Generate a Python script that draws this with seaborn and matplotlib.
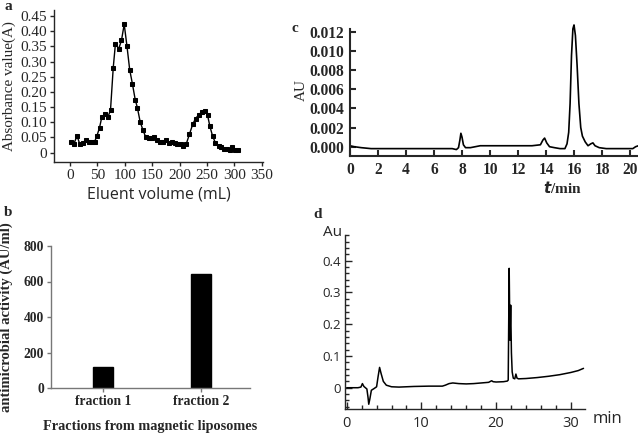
import matplotlib
matplotlib.use("Agg")
import matplotlib.pyplot as plt
import seaborn as sns
import pandas as pd
from matplotlib.ticker import MultipleLocator, FixedLocator

# ---------------- data ----------------
# panel a: gel filtration profile
vol_a = [2, 7, 13, 18, 24, 29, 35, 40, 45, 49, 54, 58, 64, 69, 74, 79, 83, 89, 94, 99,
         104, 109, 114, 119, 123, 128, 133, 138, 144, 149, 154, 159, 165, 170, 175, 181,
         186, 191, 196, 202, 207, 212, 218, 224, 229, 235, 241, 246, 251, 255, 260, 265,
         271, 276, 281, 286, 291, 296, 301, 306]
abs_a = [0.034, 0.028, 0.055, 0.028, 0.033, 0.042, 0.034, 0.036, 0.036, 0.054, 0.082,
         0.116, 0.127, 0.116, 0.140, 0.280, 0.359, 0.342, 0.370, 0.423, 0.351, 0.273,
         0.226, 0.175, 0.148, 0.102, 0.075, 0.052, 0.048, 0.049, 0.052, 0.042, 0.035,
         0.036, 0.042, 0.033, 0.036, 0.031, 0.028, 0.028, 0.022, 0.028, 0.061, 0.094,
         0.112, 0.125, 0.135, 0.137, 0.123, 0.088, 0.055, 0.033, 0.022, 0.020, 0.013,
         0.011, 0.009, 0.020, 0.007, 0.007]

# panel b: antimicrobial activity
fractions_b = ["fraction 1", "fraction 2"]
activity_b = [120, 640]

# panel c: HPLC chromatogram
t_c = [0, 0.3, 0.8, 1.5, 3, 5, 6.5, 7.3, 7.6, 7.75, 7.85, 7.92, 8.0, 8.1, 8.25, 8.6,
       9.3, 11, 13, 13.6, 13.78, 13.9, 14.05, 14.25, 14.6, 15.0, 15.35, 15.5, 15.62,
       15.72, 15.82, 15.92, 16.0, 16.1, 16.22, 16.35, 16.48, 16.6, 16.8, 17.0, 17.2,
       17.35, 17.5, 17.8, 18.3, 19.5, 20.2, 20.4, 20.6]
au_c = [0.0001, 0.0000, -0.0001, -0.0002, -0.0002, -0.0002, -0.0002, -0.0002, -0.0003,
        -0.0001, 0.0007, 0.0014, 0.0010, 0.0002, -0.0001, -0.0001, 0.0001, 0.0001,
        0.0001, 0.0002, 0.0007, 0.0009, 0.0004, 0.0000, -0.0001, -0.0002, -0.0002,
        0.0003, 0.0015, 0.0045, 0.0095, 0.0123, 0.0127, 0.0116, 0.0085, 0.0045,
        0.0020, 0.0011, 0.0005, 0.0001, 0.0003, 0.0004, 0.0001, -0.0001, -0.0002,
        -0.0002, -0.0002, 0.0000, 0.0001]

# panel d: HPLC chromatogram
t_d = [0, 1.5, 1.9, 2.1, 2.3, 2.5, 2.7, 2.85, 2.95, 3.1, 3.3, 3.7, 4.0, 4.2, 4.4, 4.6,
       4.9, 5.3, 6.0, 7.0, 9.0, 11.0, 12.8, 13.2, 13.7, 14.2, 15.0, 16.0, 17.0, 18.0,
       19.0, 19.4, 19.6, 20.0, 21.0, 21.5, 21.62, 21.75, 21.85, 21.95, 22.05, 22.15,
       22.3, 22.5, 22.65, 22.8, 23.0, 24.0, 25.5, 27.0, 28.5, 30.0, 31.0, 31.7]
au_d = [0.0, 0.0, 0.002, 0.013, 0.004, 0.0, -0.004, -0.030, -0.052, -0.035, -0.008,
        -0.002, 0.003, 0.035, 0.064, 0.045, 0.020, 0.008, 0.003, 0.002, 0.004, 0.005,
        0.005, 0.008, 0.013, 0.015, 0.013, 0.012, 0.013, 0.015, 0.017, 0.022, 0.019,
        0.018, 0.019, 0.021, 0.024, 0.376, 0.150, 0.260, 0.110, 0.050, 0.030, 0.028,
        0.043, 0.030, 0.028, 0.029, 0.032, 0.036, 0.041, 0.048, 0.054, 0.061]

# ---------------- figure ----------------
sns.set_theme(style="ticks")
plt.rcParams["font.family"] = ["Liberation Serif", "DejaVu Serif"]
plt.rcParams["axes.linewidth"] = 1.0

W, H = 638, 434
fig = plt.figure(figsize=(W / 100, H / 100), dpi=100)
fig.patch.set_facecolor("white")


def add_ax(l, r, t, b):
    return fig.add_axes([l / W, 1 - b / H, (r - l) / W, (b - t) / H])


SERIF = "Liberation Serif"
SANS = "Open Sans"

# ---- panel a ----
axa = add_ax(54, 263, 10, 162)
dfa = pd.DataFrame({"vol": vol_a, "abs": abs_a})
sns.lineplot(data=dfa, x="vol", y="abs", ax=axa, color="black", lw=1.0,
             marker="s", markersize=3.3, markeredgecolor="black", estimator=None)
axa.set_xlim(-29, 352)
axa.set_ylim(-0.031, 0.47)
axa.set_xticks(range(0, 351, 50))
yt = [i * 0.05 for i in range(10)]
axa.set_yticks(yt)
axa.set_yticklabels(["0"] + [f"{v:.2f}" for v in yt[1:]])
for s in ["top", "right"]:
    axa.spines[s].set_visible(False)
axa.tick_params(direction="out", length=3, width=1, labelsize=11, pad=2)
for lab in axa.get_xticklabels() + axa.get_yticklabels():
    lab.set_fontfamily(SERIF)
axa.set_xlabel("Eluent volume (mL)", fontfamily=SANS, fontsize=11.5, labelpad=3)
axa.set_ylabel("Absorbance value(A)", fontfamily=SERIF, fontsize=10.9, labelpad=3)
fig.text(8 / W, 1 - 7 / H, "a", fontfamily=SERIF, fontweight="bold", fontsize=11,
         ha="center", va="center")

# ---- panel b ----
axb = add_ax(51, 250, 246, 388)
dfb = pd.DataFrame({"fraction": fractions_b, "activity": activity_b})
sns.barplot(data=dfb, x="fraction", y="activity", ax=axb, color="black",
            width=0.2, saturation=1, edgecolor="black")
axb.set_xlim(-0.53, 1.5)
axb.set_ylim(0, 800)
axb.set_yticks([0, 200, 400, 600, 800])
for s in ["top", "right"]:
    axb.spines[s].set_visible(False)
axb.spines["left"].set_color("#777777")
axb.spines["bottom"].set_color("#777777")
axb.tick_params(direction="out", length=3, width=1, labelsize=9.8, pad=2,
                color="#777777")
for lab in axb.get_xticklabels() + axb.get_yticklabels():
    lab.set_fontfamily(SERIF)
    lab.set_fontweight("bold")
axb.set_xlabel("Fractions from magnetic liposomes", fontfamily=SERIF,
               fontweight="bold", fontsize=10.3, labelpad=9)
axb.set_ylabel("antimicrobial activity (AU/ml)", fontfamily=SERIF,
               fontweight="bold", fontsize=10.5, labelpad=8)
fig.text(8 / W, 1 - 212 / H, "b", fontfamily=SERIF, fontweight="bold", fontsize=11,
         ha="center", va="center")

# ---- panel c ----
axc = add_ax(350, 638, 24, 156)
dfc = pd.DataFrame({"t": t_c, "au": au_c})
sns.lineplot(data=dfc, x="t", y="au", ax=axc, color="black", lw=1.2,
             estimator=None)
axc.set_xlim(0, 20.57)
axc.set_ylim(-0.00097, 0.0128)
axc.set_xticks(range(0, 21, 2))
axc.set_yticks([0, 0.002, 0.004, 0.006, 0.008, 0.010, 0.012])
axc.set_yticklabels([f"{v:.3f}" for v in [0, 0.002, 0.004, 0.006, 0.008, 0.010, 0.012]])
for s in ["top", "right"]:
    axc.spines[s].set_visible(False)
axc.spines["left"].set_bounds(-0.00097, 0.01225)
axc.spines["left"].set_linewidth(1.5)
axc.spines["bottom"].set_linewidth(1.5)
axc.tick_params(direction="in", length=4, width=1.5, labelsize=11.2, pad=4)
for lab in axc.get_xticklabels() + axc.get_yticklabels():
    lab.set_fontfamily(SERIF)
    lab.set_fontweight("bold")
axc.set_xlabel("")
axc.set_ylabel("")
fig.text(301 / W, 1 - 90 / H, "AU", fontfamily=SERIF, fontsize=11, rotation=90,
         ha="center", va="center")
fig.text(562 / W, 1 - 188 / H, r"$\boldsymbol{t}$/min", fontfamily=SERIF,
         fontweight="bold", fontsize=11, ha="center", va="center")
fig.text(295 / W, 1 - 28 / H, "c", fontfamily=SERIF, fontweight="bold", fontsize=11,
         ha="center", va="center")

# ---- panel d ----
axd = add_ax(345, 585, 235, 409)
dfd = pd.DataFrame({"t": t_d, "au": au_d})
sns.lineplot(data=dfd, x="t", y="au", ax=axd, color="black", lw=1.1,
             estimator=None)
axd.set_xlim(-0.23, 31.9)
axd.set_ylim(-0.067, 0.481)
axd.xaxis.set_major_locator(FixedLocator([0, 10, 20, 30]))
axd.xaxis.set_minor_locator(MultipleLocator(2))
axd.yaxis.set_major_locator(FixedLocator([0, 0.1, 0.2, 0.3, 0.4]))
axd.yaxis.set_minor_locator(MultipleLocator(0.02))
axd.set_yticklabels(["0", "0.1", "0.2", "0.3", "0.4"])
for s in ["top", "right"]:
    axd.spines[s].set_visible(False)
axd.tick_params(which="major", direction="in", length=5, width=1, labelsize=9.5,
                pad=3)
axd.tick_params(which="minor", direction="in", length=3, width=1)
axd.tick_params(axis="x", which="major", labelsize=10.5, pad=5)
for lab in axd.get_xticklabels() + axd.get_yticklabels():
    lab.set_fontfamily(SANS)
axd.set_xlabel("")
axd.set_ylabel("")
fig.text(332 / W, 1 - 233 / H, "Au", fontfamily=SANS, fontsize=11,
         ha="center", va="center")
fig.text(607 / W, 1 - 419 / H, "min", fontfamily=SANS, fontsize=12,
         ha="center", va="center")
fig.text(318 / W, 1 - 215 / H, "d", fontfamily=SERIF, fontweight="bold", fontsize=11,
         ha="center", va="center")

fig.savefig("out.png", dpi=100, facecolor="white")
